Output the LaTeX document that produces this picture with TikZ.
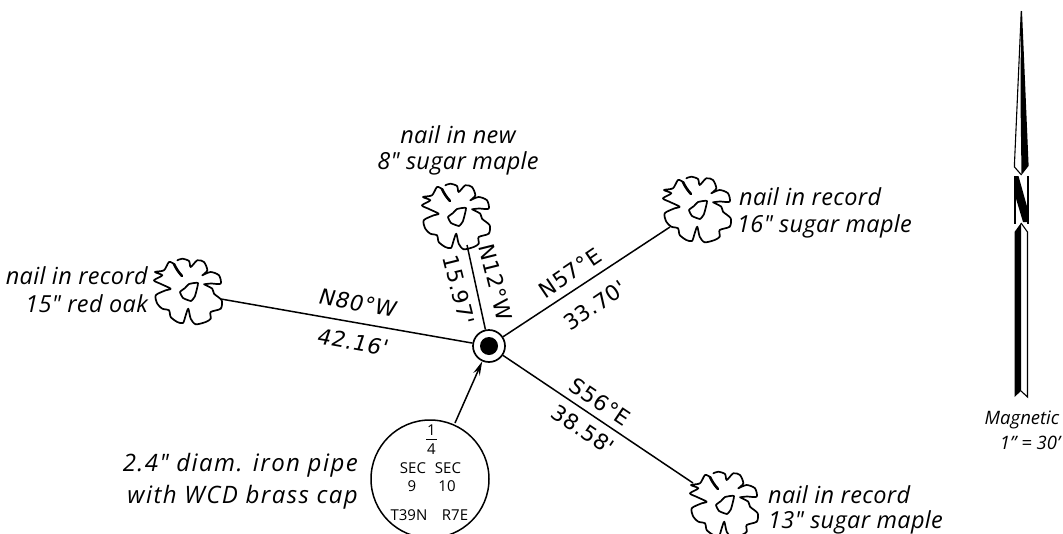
\documentclass[tikz,border=0pt]{standalone}
\usepackage{fontspec}
\setmainfont{Open Sans}
\newfontfamily\distfont[LetterSpace=3]{DejaVu Sans}
\newfontfamily\notefont[LetterSpace=1.5]{Open Sans}
\newfontfamily\widenote[LetterSpace=6]{Open Sans}
\usetikzlibrary{arrows.meta}
\tikzset{
  x=1pt,y=-1pt,
  line/.style={line width=1.5pt,black},
  note/.style={font=\notefont\itshape\fontsize{23.5}{26}\selectfont,inner sep=0pt},
  wide note/.style={font=\widenote\itshape\fontsize{24}{26}\selectfont,inner sep=0pt},
  dist/.style={font=\distfont\fontsize{21.5}{24}\selectfont,inner sep=0pt},
  sec/.style={font=\fontsize{15}{17}\selectfont,inner sep=0pt},
  tree/.pic={
    \draw[line width=1.7pt,line join=round,line cap=round]
      plot[smooth,tension=.45] coordinates {(-11.7,-31.7)(-6.7,-33.3)(0,-31)(1.7,-25)(8.3,-31.7)(15,-30)(18.3,-21.7)(13.3,-16.7)}
      plot[smooth,tension=.45] coordinates {(13.3,-16.7)(21.7,-20)(30,-16.7)(31.7,-8.3)(22,-8.5)(15,-7.7)}
      plot[smooth,tension=.45] coordinates {(15,-7.7)(23.3,-3.3)(25,1.7)(32.7,8.3)(31.7,16.7)(21.7,20)(21.7,26.7)(16.7,30)(6.7,32.3)(1.7,26.7)(-.7,16.7)(-3.3,23.3)(-6,31)(-11.7,30)(-18.3,25)(-20,18.3)(-26.7,16.7)(-31.7,11.7)(-33.3,3.3)(-23.3,-1.7)(-18.3,-3.3)(-28,-8)(-35,-11.7)(-26.7,-16.7)(-34,-20)(-25,-21.7)(-20,-30)(-15,-28)};
    \draw[line width=2.6pt,line cap=round] (-15,-28) to[bend right=8] (-7,-16);
    \draw[line width=1.7pt,line join=round] plot[smooth cycle,tension=.25] coordinates {(-9,0)(-4,-4)(0,-8)(9,-9)(6,4)(2,9)(-6,6)};
  },
}
\begin{document}
\begin{tikzpicture}
\useasboundingbox (0,0) rectangle (1063,533);
\clip (0,0) rectangle (1063,533);
\coordinate (mon) at (489,346);
\coordinate (t1) at (189,292);
\coordinate (t2) at (457,217);
\coordinate (t3) at (698,210);
\coordinate (t4) at (725,505);
\coordinate (e1) at (221,299);
\coordinate (e2) at (467,245);
\coordinate (e3) at (670,227);
\coordinate (e4) at (693,483);
\coordinate (ptop) at (455,423);
\pic at (t1) {tree};
\pic at (t2) {tree};
\pic at (t3) {tree};
\pic at (t4) {tree};
% monument
\node[circle,draw,line width=1.7pt,minimum size=32pt,inner sep=0pt,fill=white] (m) at (mon) {};
\node[circle,fill=black,minimum size=18pt,inner sep=0pt] (md) at (mon) {};
\draw[line] (e1) -- (m);
\draw[line] (e2) -- (m);
\draw[line] (e3) -- (m);
\draw[line] (e4) -- (m);
% pipe detail
\node[circle,draw,line width=1.5pt,minimum size=118pt,inner sep=0pt] (pipe) at (430,479) {};
\draw[line,-{Stealth[length=14pt,width=7pt]}] (ptop) -- (m);
\node[sec] (q1) at (431.5,430) {1};
\draw[line width=1.2pt] (426,439.5) -- (437,439.5);
\node[sec] (q4) at (431.5,449) {4};
\node[sec] (s1) at (413,468) {SEC};
\node[sec] (s2) at (448,468) {SEC};
\node[sec] (s3) at (412,486) {9};
\node[sec] (s4) at (447,486) {10};
\node[sec] (s5) at (409,515) {T39N};
\node[sec] (s6) at (455,515) {R7E};
% notes
\node[note] (n2a) at (458,135) {nail in new};
\node[note] (n2b) at (458,163) {8" sugar maple};
\node[note,anchor=west] (n3a) at (739,197) {nail in record};
\node[note,anchor=west] (n3b) at (737,226) {16" sugar maple};
\node[note,anchor=west] (n4a) at (768,495) {nail in record};
\node[note,anchor=west] (n4b) at (768,522) {13" sugar maple};
\node[note,anchor=east] (n1a) at (148,276) {nail in record};
\node[note,anchor=east] (n1b) at (148,304) {15" red oak};
\node[wide note,anchor=east] (n5a) at (358,465) {2.4" diam. iron pipe};
\node[wide note,anchor=east] (n5b) at (358,497) {with WCD brass cap};
% bearings
\node[dist,rotate=-10,xslant=.15] (b1) at (358,303) {N80°W};
\node[dist,rotate=-10,xslant=.15] (d1) at (353,342) {42.16'};
\node[dist,rotate=-76] (b2) at (496,282) {N12°W};
\node[dist,rotate=-76] (d2) at (459,290) {15.97'};
\node[dist,rotate=34] (b3) at (570,273) {N57°E};
\node[dist,rotate=34] (d3) at (595,305) {33.70'};
\node[dist,rotate=-34] (b4) at (600,402) {S56°E};
\node[dist,rotate=-34] (d4) at (583,430) {38.58'};
% north arrow
\fill[black] (1021,11) -- (1022,11) -- (1028.5,163) -- (1028.5,166) -- (1021.5,175) -- (1020.5,100) -- cycle;
\draw[line width=1.1pt,line join=miter] (1021.3,11) -- (1014.5,163) -- (1014.5,167) -- (1021.5,175);
\fill[black] (1014,176) -- (1018.5,176) -- (1028,210) -- (1028,222) -- (1023,222) -- (1014,192) -- cycle;
\draw[line width=1.6pt] (1015,176) -- (1015,224);
\draw[line width=1.6pt] (1028,176) -- (1028,224);
\fill[black] (1021,223) -- (1014.5,232) -- (1014.5,397) -- (1021,391) -- cycle;
\draw[line width=1.1pt,line join=miter] (1021,223) -- (1027.5,232) -- (1027.5,397) -- (1021,391);
\node[font=\itshape\fontsize{18.5}{20}\selectfont,inner sep=0pt] (mag) at (1022,420) {Magnetic};
\node[font=\itshape\fontsize{18.5}{20}\selectfont,inner sep=0pt] (sc) at (1030,443) {1" = 30'};
\end{tikzpicture}
\end{document}
